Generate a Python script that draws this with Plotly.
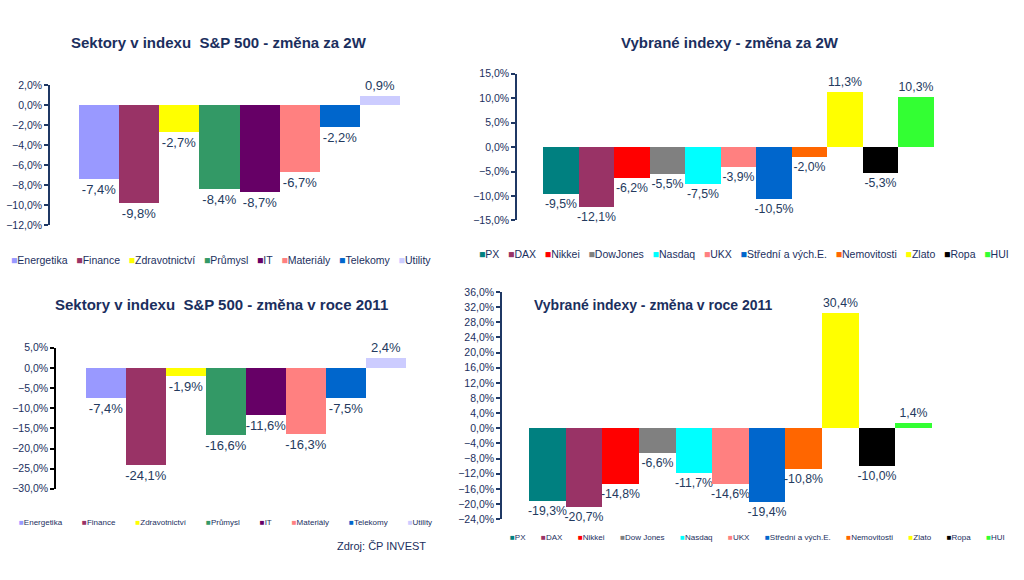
import plotly.graph_objects as go

W, H = 1024, 580

# ---------------- data ----------------
sectors = ["Energetika", "Finance", "Zdravotnictví", "Průmysl", "IT", "Materiály", "Telekomy", "Utility"]
sector_colors = ["#9999FF", "#993366", "#FFFF00", "#339966", "#660066", "#FF8080", "#0066CC", "#CCCCFF"]
sectors_2w = [-7.4, -9.8, -2.7, -8.4, -8.7, -6.7, -2.2, 0.9]
sectors_2011 = [-7.4, -24.1, -1.9, -16.6, -11.6, -16.3, -7.5, 2.4]

indexes_2w_names = ["PX", "DAX", "Nikkei", "DowJones", "Nasdaq", "UKX", "Střední a vých.E.",
                    "Nemovitosti", "Zlato", "Ropa", "HUI"]
indexes_2011_names = ["PX", "DAX", "Nikkei", "Dow Jones", "Nasdaq", "UKX", "Střední a vých.E.",
                      "Nemovitosti", "Zlato", "Ropa", "HUI"]
index_colors = ["#008080", "#993366", "#FF0000", "#808080", "#00FFFF", "#FF8080", "#0066CC",
                "#FF6600", "#FFFF00", "#000000", "#33FF33"]
indexes_2w = [-9.5, -12.1, -6.2, -5.5, -7.5, -3.9, -10.5, -2.0, 11.3, -5.3, 10.3]
indexes_2011 = [-19.3, -20.7, -14.8, -6.6, -11.7, -14.6, -19.4, -10.8, 30.4, -10.0, 1.4]

titles = ["Sektory v indexu\u00a0 S&P 500 - změna za 2W",
          "Vybrané indexy - změna za 2W",
          "Sektory v indexu\u00a0 S&P 500 - změna v roce 2011",
          "Vybrané indexy - změna v roce 2011"]

y_ranges = [(-12, 2, 2), (-15, 15, 5), (-30, 5, 5), (-24, 36, 4)]

NAVY = "#1B2F5E"
LABEL = "#243A5E"
FONT = "Liberation Sans, Arial, sans-serif"

# ---------------- layout geometry (pixels) ----------------
# (axis x, plot right, y top, y bottom, first bar left, last bar right)
geo = [
    (50, 430, 80.7, 224, 79, 400),
    (517, 960, 69, 219, 543, 934),
    (56, 432, 349, 493, 86, 406),
    (502, 960, 292, 524, 529, 932),
]
label_sizes = [13, 12.3, 13, 12.3]

panels = [
    (sectors, sector_colors, sectors_2w),
    (indexes_2w_names, index_colors, indexes_2w),
    (sectors, sector_colors, sectors_2011),
    (indexes_2011_names, index_colors, indexes_2011),
]

def fmt(v):
    return f"{v:.1f}%".replace(".", ",")

fig = go.Figure()
layout = dict(
    width=W, height=H, margin=dict(l=0, r=0, t=0, b=0),
    paper_bgcolor="white", plot_bgcolor="white",
    showlegend=False, barmode="overlay", bargap=0,
    font=dict(family=FONT, color=NAVY),
    separators=",.",
)

annotations = []
for p, ((names, colors, vals), (ax, pr, yt, yb, bl, br), (ymin, ymax, dt), ls) in enumerate(
        zip(panels, geo, y_ranges, label_sizes), start=1):
    n = len(names)
    w = (br - bl) / n
    xr = [-0.5 - (bl - ax) / w, n - 0.5 + (pr - br) / w]
    sfx = "" if p == 1 else str(p)
    for i, (nm, c, v) in enumerate(zip(names, colors, vals)):
        fig.add_trace(go.Bar(
            x=[i], y=[v], name=nm, marker=dict(color=c, line=dict(width=0)),
            width=1, text=[fmt(v)], textposition="outside", constraintext="none",
            textfont=dict(size=ls, color=LABEL, family=FONT), cliponaxis=False,
            xaxis="x" + sfx, yaxis="y" + sfx, hoverinfo="name+y",
        ))
    axis_col = "#000000" if p == 3 else "#1F3864"
    layout["xaxis" + sfx] = dict(
        domain=[ax / W, pr / W], range=xr, anchor="y" + sfx,
        showticklabels=False, showgrid=False, zeroline=False, showline=False, ticks="",
        fixedrange=True,
    )
    layout["yaxis" + sfx] = dict(
        domain=[1 - yb / H, 1 - yt / H], range=[ymin, ymax], anchor="x" + sfx,
        tickmode="linear", tick0=ymin, dtick=dt, tickformat=".1f", ticksuffix="%",
        showgrid=False, zeroline=False, showline=True, linecolor=axis_col, linewidth=1.5,
        ticks="outside", ticklen=4, tickcolor=axis_col, tickwidth=1.5,
        tickfont=dict(size=10.5, color=NAVY, family=FONT),
        fixedrange=True,
    )

# titles
title_pos = [(219, 37, "center", 15), (730, 37, "center", 15),
             (221, 305, "center", 15), (532, 305, "left", 14)]
for t, (tx, ty, anc, fs) in zip(titles, title_pos):
    annotations.append(dict(
        text=f"<b>{t}</b>", x=tx / W, y=1 - ty / H, xref="paper", yref="paper",
        xanchor=anc, yanchor="middle", showarrow=False,
        font=dict(size=fs, color=NAVY, family=FONT),
    ))

# legends (built from the series names & colours)
def legend_text(names, colors, gap):
    parts = [f"<span style='color:{c}'>■</span>{nm}" for nm, c in zip(names, colors)]
    return ("\u00a0" * gap).join(parts)

leg_specs = [
    (sectors, sector_colors, 221, 259, 10.5, 3),
    (indexes_2w_names, index_colors, 744, 253, 10.5, 3),
    (sectors, sector_colors, 225, 527, 8, 9),
    (indexes_2011_names, index_colors, 757, 543, 8, 7),
]
for names, colors, cx, cy, fs, gap in leg_specs:
    annotations.append(dict(
        text=legend_text(names, colors, gap), x=cx / W, y=1 - cy / H,
        xref="paper", yref="paper", xanchor="center", yanchor="middle", showarrow=False,
        font=dict(size=fs, color=NAVY, family=FONT),
    ))

annotations.append(dict(
    text="Zdroj: ČP INVEST", x=428 / W, y=1 - 551 / H, xref="paper", yref="paper",
    xanchor="right", yanchor="middle", showarrow=False,
    font=dict(size=11, color=NAVY, family=FONT),
))

layout["annotations"] = annotations
fig.update_layout(**layout)
fig.write_html(
    "out.html",
    config={"displayModeBar": False},
    post_script="document.body.style.margin='0';document.body.style.overflow='hidden';",
)
